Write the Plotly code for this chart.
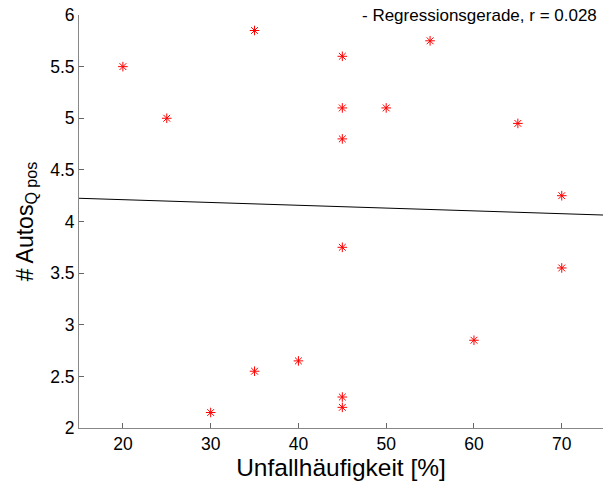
import plotly.graph_objects as go

# Data
unfall = [20, 25, 30, 35, 35, 40, 45, 45, 45, 45, 45, 45, 50, 55, 60, 65, 70, 70]
autos = [5.5, 5.0, 2.15, 5.85, 2.55, 2.65, 5.6, 5.1, 4.8, 3.75, 2.3, 2.2, 5.1, 5.75, 2.85, 4.95, 4.25, 3.55]
# Regression line (value at the ends of the x range)
reg_x = [15, 75]
reg_y = [4.225, 4.062]
x_ticks = [20, 30, 40, 50, 60, 70]
y_ticks = [2, 2.5, 3, 3.5, 4, 4.5, 5, 5.5, 6]
y_tick_text = ["2", "2.5", "3", "3.5", "4", "4.5", "5", "5.5", "6"]
x_range = [15, 74.7]
y_range = [2, 6]

fig = go.Figure()
fig.add_trace(go.Scatter(
    x=unfall, y=autos, mode="markers",
    marker=dict(symbol="asterisk-open", size=8, color="#ff0000",
                line=dict(color="#ff0000", width=1)),
    showlegend=False, cliponaxis=False))
fig.add_trace(go.Scatter(
    x=reg_x, y=reg_y, mode="lines",
    line=dict(color="black", width=1), showlegend=False))

font_family = "Liberation Sans, Arial, sans-serif"
fig.update_layout(
    width=603, height=481,
    margin=dict(l=79, r=0, t=15, b=53),
    plot_bgcolor="white", paper_bgcolor="white",
    font=dict(family=font_family, color="black"),
    xaxis=dict(range=x_range, tickvals=x_ticks, ticks="inside", ticklen=5,
               tickcolor="#666666", showline=True, linecolor="#888888",
               linewidth=1, showgrid=False, zeroline=False,
               tickfont=dict(size=17.5),
               title=dict(text="Unfallhäufigkeit [%]", font=dict(size=24.5), standoff=0)),
    yaxis=dict(range=y_range, tickvals=y_ticks, ticktext=y_tick_text,
               ticks="inside", ticklen=5, tickcolor="#666666",
               showline=True, linecolor="#888888", linewidth=1,
               showgrid=False, zeroline=False, tickfont=dict(size=17.5),
               title=dict(text="# Autos<sub>Q pos</sub>", font=dict(size=23), standoff=10)),
    annotations=[dict(text="- Regressionsgerade, r = 0.028", xref="paper", yref="paper",
                      x=0.993, y=1.0, xanchor="right", yanchor="middle",
                      showarrow=False, font=dict(size=17, color="black"))],
)

fig.write_html("out.html")
